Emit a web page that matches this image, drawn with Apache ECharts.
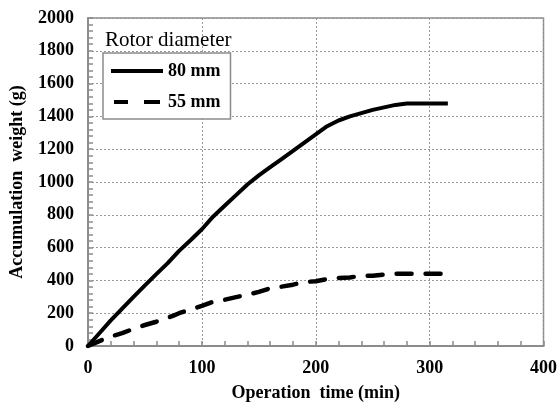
<!DOCTYPE html>
<html>
<head>
<meta charset="utf-8">
<script src="https://cdn.jsdelivr.net/npm/echarts@6/dist/echarts.min.js"></script>
<style>
html,body{margin:0;padding:0;background:#fff;}
#chart{width:560px;height:407px;}
</style>
</head>
<body>
<div id="chart"></div>
<script>
// data (time in min, weight in g)
const time80 = [0,10,20,30,40,50,60,70,80,90,100,110,120,130,140,150,160,170,180,190,200,210,220,230,240,250,260,270,280,290,300,316];
const weight80 = [0,78,156,228,300,370,438,505,580,645,712,790,855,920,985,1040,1090,1140,1190,1240,1290,1340,1375,1400,1420,1440,1455,1470,1478,1478,1478,1478];
const time55 = [0,10,20,30,40,50,60,70,75,80,85,90,100,110,120,130,140,150,160,170,180,190,200,210,220,230,240,250,260,270,280,290,300,316];
const weight55 = [0,30,58,78,105,128,148,172,185,200,212,222,245,270,282,298,313,330,352,362,374,390,395,408,415,418,428,428,436,440,440,440,440,440];
const xTicks = {min:0, max:400, step:100};
const yTicks = {min:0, max:2000, step:200};

const FONT = '"Liberation Serif", "Times New Roman", serif';
const gray = '#8c8c8c';

const chart = echarts.init(document.getElementById('chart'), null, {renderer:'canvas'});

function pairs(xs, ys){ return xs.map((x,i)=>[x, ys[i]]); }

const axisCommon = {
  nameLocation:'middle',
  nameTextStyle:{fontFamily:FONT, fontWeight:'bold', fontSize:18, color:'#000'},
  axisLine:{show:true, lineStyle:{color:gray, width:2}},
  axisTick:{show:true, inside:true, length:5, lineStyle:{color:gray, width:1.5}},
  minorTick:{show:true, splitNumber:5, length:5, lineStyle:{color:gray, width:1.5}},
  splitLine:{show:true, lineStyle:{color:'#999', type:[2,2], width:1}}
};

chart.setOption({
  animation:false,
  grid:{left:88, right:16, top:18, bottom:59, show:true, borderColor:gray, borderWidth:1.5, backgroundColor:'transparent'},
  graphic:[{
    type:'text', left:105, top:30, z:10,
    style:{text:'Rotor diameter', font:'21px '+FONT, fill:'#000'}
  }],
  legend:{
    left:103, top:53, orient:'vertical',
    itemWidth:52, itemHeight:4, itemGap:13,
    padding:[9,10,8,8],
    backgroundColor:'#fff',
    borderColor:gray, borderWidth:1.5,
    textStyle:{fontFamily:FONT, fontWeight:'bold', fontSize:18, color:'#000', lineHeight:18},
    data:[
      {name:'80 mm', icon:'rect'},
      {name:'55 mm', icon:'path://M0,0h14v4h-14zM30,0h16v4h-16z'}
    ]
  },
  xAxis:Object.assign({}, axisCommon, {
    type:'value', min:xTicks.min, max:xTicks.max, interval:xTicks.step,
    name:'Operation  time (min)', nameGap:38,
    axisLabel:{fontFamily:FONT, fontWeight:'bold', fontSize:18, color:'#000', margin:13,
      formatter:v=>String(v)}
  }),
  yAxis:Object.assign({}, axisCommon, {
    type:'value', min:yTicks.min, max:yTicks.max, interval:yTicks.step,
    name:'Accumulation  weight (g)', nameGap:62,
    axisLabel:{fontFamily:FONT, fontWeight:'bold', fontSize:18, color:'#000', margin:14,
      formatter:v=>String(v)}
  }),
  series:[
    {
      name:'80 mm', type:'line', data:pairs(time80, weight80),
      showSymbol:false, symbol:'none',
      lineStyle:{color:'#000', width:4},
      itemStyle:{color:'#000'}
    },
    {
      name:'55 mm', type:'line', data:pairs(time55, weight55),
      showSymbol:false, symbol:'none',
      lineStyle:{color:'#000', width:4.5, type:[15,14], cap:'round'},
      itemStyle:{color:'#000'}
    }
  ]
});
</script>
</body>
</html>
